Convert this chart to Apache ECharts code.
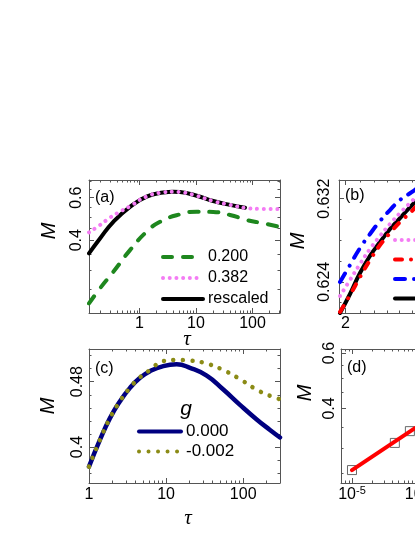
<!DOCTYPE html>
<html><head><meta charset="utf-8">
<script src="https://cdn.jsdelivr.net/npm/echarts@6/dist/echarts.min.js"></script>
<style>html,body{margin:0;padding:0;background:#fff}#c{width:415px;height:537px}</style>
</head><body><div id="c"></div>
<script>
const FONT = '"Liberation Sans", Arial, Helvetica, sans-serif';

// ---------- Panel (a) ----------
const aXMajor = [1, 10, 100];
const aXMinor = [0.2,0.3,0.4,0.5,0.6,0.7,0.8,0.9,2,3,4,5,6,7,8,9,20,30,40,50,60,70,80,90,200,300];
const aYMajor = [0.4, 0.6];
const aYMinor = [0.25,0.3,0.35,0.45,0.5,0.55,0.65,0.7];
const aTau200 = [0.1277, 0.2, 0.344, 0.679, 1.34, 2.31, 5.21, 10.3, 20.2, 40, 78.9, 155, 307];
const aM200   = [0.219, 0.253, 0.296, 0.364, 0.434, 0.477, 0.512, 0.525, 0.5235, 0.509, 0.485, 0.470, 0.454];
const aTau382 = [0.1277, 0.2, 0.30, 0.452, 0.679, 1.34, 2.64, 4.0, 5.21, 10.3, 20.2, 40, 78.9, 135.8, 307];
const aM382   = [0.431, 0.462, 0.496, 0.525, 0.553, 0.607, 0.631, 0.635, 0.633, 0.611, 0.581, 0.560, 0.543, 0.539, 0.538];
const aTauRes = [0.1277, 0.2, 0.344, 0.679, 1.34, 2.64, 4.0, 5.21, 10.3, 20.2, 40, 73.7];
const aMRes   = [0.353, 0.407, 0.477, 0.550, 0.606, 0.630, 0.635, 0.633, 0.611, 0.581, 0.560, 0.545];

// ---------- Panel (b) ----------
const bXMajor = [2, 3];
const bXMinor = [2.1,2.2,2.3,2.4,2.5,2.6,2.7,2.8,2.9,3.1,3.2,3.3,3.4,3.5,3.6,3.7];
const bYMajor = [0.624, 0.632];
const bYMinor = [0.622, 0.626, 0.628, 0.630];
const bTau   = [1.9636, 2.0308, 2.1003, 2.1721, 2.2464, 2.3233, 2.4028, 2.5018, 2.553];
const bMPink = [0.62264, 0.62418, 0.62572, 0.62716, 0.62841, 0.62957, 0.63062, 0.63178, 0.6324];
const bMRed  = [0.6211, 0.62273, 0.62446, 0.6261, 0.62754, 0.6287, 0.62976, 0.63082, 0.6315];
const bMBlue = [0.62398, 0.62562, 0.62725, 0.6286, 0.62985, 0.63091, 0.63188, 0.63265, 0.6331];
const bMRes  = [0.6210, 0.62283, 0.62485, 0.62649, 0.62783, 0.62908, 0.63014, 0.63139, 0.6320];

// ---------- Panel (c) ----------
const cXMajor = [1, 10, 100];
const cXMinor = [2,3,4,5,6,7,8,9,20,30,40,50,60,70,80,90,200,300];
const cYMajor = [0.40, 0.48];
const cYMinor = [0.368, 0.384, 0.416, 0.432, 0.448, 0.464, 0.496, 0.512];
const cTau  = [1, 1.39, 1.87, 2.52, 3.40, 4.59, 6.18, 9.2, 13.7, 20.4, 33.6, 55.2, 90.8, 149.6, 222.6, 300];
const cM000 = [0.376, 0.409, 0.4354, 0.456, 0.4724, 0.4847, 0.4929, 0.4991, 0.5012, 0.497, 0.4875, 0.4705, 0.4517, 0.4338, 0.4209, 0.4117];
const cM002 = [0.376, 0.409, 0.4354, 0.456, 0.4726, 0.4855, 0.4942, 0.5052, 0.5065, 0.5058, 0.5022, 0.4942, 0.4831, 0.4702, 0.4628, 0.4585];

// ---------- Panel (d) ----------
const dXMajor = [1e-5, 1e-4, 1e-3];
const dXMinor = [7e-6,8e-6,9e-6,2e-5,3e-5,4e-5,5e-5,6e-5,7e-5,8e-5,9e-5,2e-4,3e-4,4e-4,5e-4,6e-4,7e-4,8e-4,9e-4,2e-3,3e-3,4e-3,5e-3];
const dYMajor = [0.4, 0.6];
const dYMinor = [0.25,0.3,0.35,0.45,0.5,0.55];
const dEps = [1e-5, 4.4e-5, 7.4e-5];
const dM   = [0.255, 0.311, 0.339];
const dFitEps = [1e-5, 1e-3];
const dFitM   = [0.255, 0.488];

const zip = (xs, ys) => xs.map((x, i) => [x, ys[i]]);
const num = v => String(Number((+v).toPrecision(6)));

const grids = [
  {left: 89,  top: 180, width: 191, height: 133},
  {left: 339, top: 180, width: 191, height: 133},
  {left: 89,  top: 349, width: 191, height: 134},
  {left: 341, top: 349, width: 191, height: 134}
];

const FR = '#555';
const xAxes = [], yAxes = [];
function axisSet(list, gi, cfg, isY) {
  const posMain = isY ? 'left' : 'bottom';
  const posOpp = isY ? 'right' : 'top';
  const mk = (pos, major, label) => {
    const a = {
      type: cfg.type, gridIndex: gi, position: pos, min: cfg.min, max: cfg.max,
      axisLine: {show: major, onZero: false, lineStyle: {color: FR, width: 1}},
      axisTick: {show: true, inside: true, length: major ? 5 : 2.5,
                 customValues: major ? cfg.major : cfg.minor, lineStyle: {color: FR, width: 1}},
      axisLabel: {show: false},
      splitLine: {show: false}, minorTick: {show: false}, minorSplitLine: {show: false}
    };
    if (cfg.type === 'log') a.logBase = 10;
    if (label) {
      a.axisLabel = {
        show: true, customValues: cfg.labels, formatter: cfg.fmt || num,
        margin: cfg.margin, color: '#000', fontSize: 16, fontFamily: FONT,
        showMinLabel: true, showMaxLabel: true
      };
      if (cfg.rich) a.axisLabel.rich = cfg.rich;
      if (isY) a.axisLabel.rotate = 90;
    }
    return a;
  };
  const idx = list.length;
  list.push(mk(posMain, true, true));
  list.push(mk(posMain, false, false));
  list.push(mk(posOpp, true, false));
  list.push(mk(posOpp, false, false));
  return idx;
}

const supRich = {
  b: {fontSize: 16, fontFamily: FONT, color: '#000', lineHeight: 20},
  s: {fontSize: 11, fontFamily: FONT, color: '#000', verticalAlign: 'top'}
};

const xa = [], ya = [];
xa[0] = axisSet(xAxes, 0, {type: 'log', min: 0.1277, max: 307, major: aXMajor, minor: aXMinor, labels: aXMajor, margin: 3}, false);
ya[0] = axisSet(yAxes, 0, {type: 'log', min: 0.2, max: 0.71, major: aYMajor, minor: aYMinor, labels: aYMajor, margin: 4}, true);
xa[1] = axisSet(xAxes, 1, {type: 'log', min: 1.957, max: 3.72, major: bXMajor, minor: bXMinor, labels: bXMajor, margin: 3}, false);
ya[1] = axisSet(yAxes, 1, {type: 'value', min: 0.621, max: 0.6338, major: bYMajor, minor: bYMinor, labels: bYMajor, margin: 6}, true);
xa[2] = axisSet(xAxes, 2, {type: 'log', min: 1, max: 300, major: cXMajor, minor: cXMinor, labels: cXMajor, margin: 4}, false);
ya[2] = axisSet(yAxes, 2, {type: 'value', min: 0.356, max: 0.52, major: cYMajor, minor: cYMinor, labels: cYMajor, margin: 3}, true);
xa[3] = axisSet(xAxes, 3, {type: 'log', min: 6.84e-6, max: 5.04e-3, major: dXMajor, minor: dXMinor, labels: dXMajor, margin: 2,
  fmt: v => '{b|10}{s|' + Math.round(Math.log10(v)) + '}', rich: supRich}, false);
ya[3] = axisSet(yAxes, 3, {type: 'log', min: 0.232, max: 0.618, major: dYMajor, minor: dYMinor, labels: dYMajor, margin: 3}, true);

const GREEN = '#1e871e', PINK = '#f47cf4', BLACK = '#000000', RED = '#ff0000', BLUE = '#0000ff', NAVY = '#000080', OLIVE = '#8b8b16';

function line(name, p, xs, ys, color, type, width, extra) {
  return Object.assign({
    type: 'line', name, xAxisIndex: xa[p], yAxisIndex: ya[p], data: zip(xs, ys),
    symbol: 'none', showSymbol: false, smooth: 0.5, animation: false,
    lineStyle: {color, width, type, cap: 'round', join: 'round'}, itemStyle: {color},
    emphasis: {disabled: true}
  }, extra || {});
}

const series = [
  line('0.200', 0, aTau200, aM200, GREEN, [9, 11], 4),
  line('rescaled', 0, aTauRes, aMRes, BLACK, 'solid', 4),
  line('0.382', 0, aTau382, aM382, PINK, [0.01, 6.7], 4),

  line('rescaled', 1, bTau, bMRes, BLACK, 'solid', 4),
  line('0.382', 1, bTau, bMPink, PINK, [0.01, 6.7], 4),
  line('0.381', 1, bTau, bMRed, RED, [7, 9, 0.01, 9], 4),
  line('0.383', 1, bTau, bMBlue, BLUE, [10, 9, 0.01, 9], 4),

  line('0.000', 2, cTau, cM000, NAVY, 'solid', 4.5),
  line('-0.002', 2, cTau, cM002, OLIVE, [0.01, 9.5], 4.5),

  {type: 'scatter', name: 'data', xAxisIndex: xa[3], yAxisIndex: ya[3], data: zip(dEps, dM),
   symbol: 'rect', symbolSize: 9, animation: false,
   itemStyle: {color: 'rgba(255,255,255,0)', borderColor: '#444', borderWidth: 1}},
  line('fit', 3, dFitEps, dFitM, RED, 'solid', 4, {smooth: false})
];

const legendBase = {
  orient: 'vertical', itemHeight: 14, selectedMode: false, padding: 0,
  textStyle: {fontSize: 16, fontFamily: FONT, color: '#000'},
  lineStyle: {width: 4},
  itemStyle: {opacity: 0, borderWidth: 0}
};
const legends = [
  Object.assign({}, legendBase, {left: 161, top: 249, itemWidth: 40, itemGap: 5, data: ['0.200', '0.382', 'rescaled']}),
  Object.assign({}, legendBase, {left: 393, top: 232, itemWidth: 41, itemGap: 3.5, data: ['0.382', '0.381', '0.383', 'rescaled']}),
  Object.assign({}, legendBase, {left: 137, top: 423, itemWidth: 42, itemGap: 3,
    textStyle: {fontSize: 17, fontFamily: FONT, color: '#000'}, data: ['0.000', '-0.002']})
];

const txt = (text, x, y, font, rot, align) => ({
  type: 'text', x, y, rotation: rot || 0, z: 10,
  style: {text, font, fill: '#000', align: align || 'center', verticalAlign: 'middle'}
});
const MF = 'italic 20px ' + FONT;
const TF = 'italic 21px "Liberation Serif", "DejaVu Serif", serif';
const LF = '16px ' + FONT;
const graphic = [
  txt('M', 49, 231, MF, Math.PI / 2),
  txt('M', 298, 241, MF, Math.PI / 2),
  txt('M', 48, 406, MF, Math.PI / 2),
  txt('M', 305, 393, MF, Math.PI / 2),
  txt('τ', 187, 339, TF),
  txt('τ', 188, 518, TF),
  txt('(a)', 95, 198, LF, 0, 'left'),
  txt('(b)', 345, 196, LF, 0, 'left'),
  txt('(c)', 95, 369, LF, 0, 'left'),
  txt('(d)', 347, 368, LF, 0, 'left'),
  txt('g', 186, 409, 'italic 21px ' + FONT)
];

const chart = echarts.init(document.getElementById('c'), null, {renderer: 'canvas'});
chart.setOption({
  animation: false,
  backgroundColor: '#fff',
  grid: grids.map(g => Object.assign({containLabel: false, outerBoundsMode: 'none'}, g)),
  xAxis: xAxes, yAxis: yAxes,
  legend: legends,
  series, graphic
});
</script>
</body></html>
